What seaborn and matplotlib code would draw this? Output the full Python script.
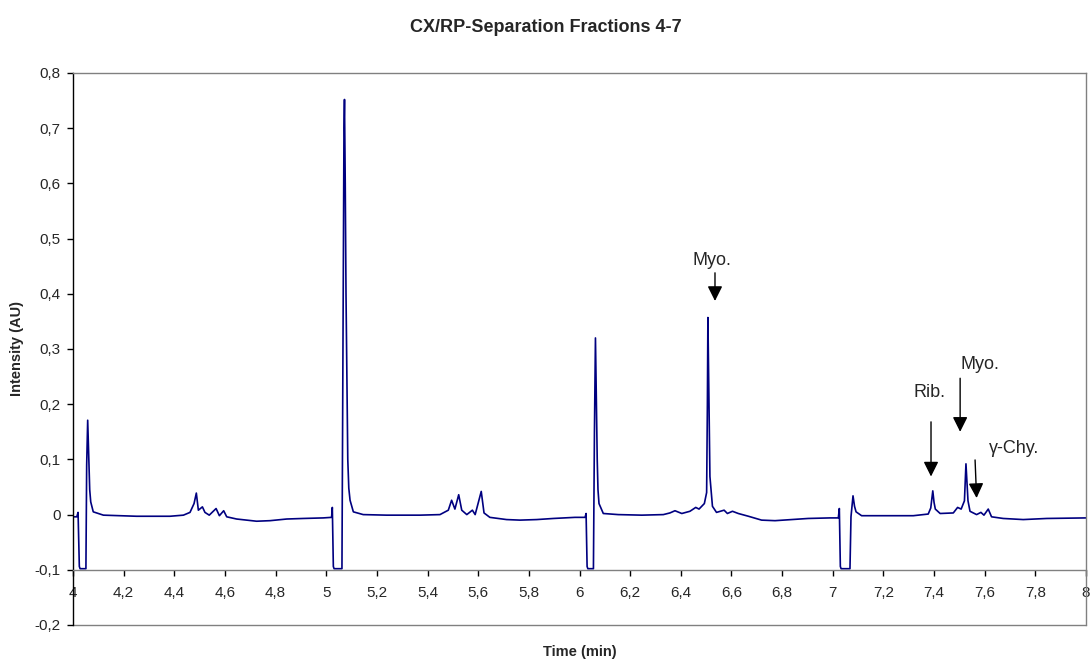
import matplotlib
matplotlib.use("Agg")
import matplotlib.pyplot as plt
import seaborn as sns
import pandas as pd
from matplotlib.ticker import FixedLocator, FuncFormatter

# ---------------- data ----------------
time_min = [
    4.000, 4.015, 4.020, 4.025, 4.028, 4.051, 4.054, 4.058, 4.063, 4.066,
    4.070, 4.080, 4.120, 4.251, 4.383, 4.436, 4.462, 4.478, 4.487, 4.495,
    4.511, 4.521, 4.538, 4.565, 4.578, 4.595, 4.607, 4.646, 4.725, 4.778,
    4.844, 4.909, 4.988,
    5.021, 5.024, 5.028, 5.031, 5.062, 5.066, 5.070, 5.072, 5.075, 5.078,
    5.085, 5.089, 5.094, 5.107, 5.146, 5.238, 5.370, 5.449, 5.482, 5.495,
    5.508, 5.523, 5.535, 5.555, 5.577, 5.588, 5.612, 5.623, 5.646, 5.712,
    5.765, 5.831, 5.897, 5.982,
    6.022, 6.026, 6.030, 6.033, 6.055, 6.059, 6.063, 6.067, 6.070, 6.073,
    6.077, 6.094, 6.153, 6.246, 6.331, 6.357, 6.377, 6.404, 6.436, 6.459,
    6.472, 6.493, 6.502, 6.505, 6.507, 6.510, 6.515, 6.525, 6.541, 6.571,
    6.584, 6.604, 6.627, 6.667, 6.719, 6.772, 6.838, 6.903, 6.989,
    7.022, 7.026, 7.030, 7.033, 7.068, 7.072, 7.080, 7.086, 7.092, 7.114,
    7.187, 7.318, 7.377, 7.387, 7.395, 7.400, 7.405, 7.424, 7.476, 7.493,
    7.507, 7.520, 7.526, 7.534, 7.542, 7.568, 7.585, 7.597, 7.614, 7.627,
    7.673, 7.752, 7.845, 8.000,
]
intensity_au = [
    -0.004, -0.004, 0.004, -0.094, -0.098, -0.098, 0.090, 0.171, 0.090, 0.045,
    0.023, 0.005, -0.001, -0.003, -0.003, -0.001, 0.004, 0.020, 0.039, 0.008,
    0.014, 0.004, -0.001, 0.011, -0.002, 0.007, -0.004, -0.008, -0.012, -0.011,
    -0.008, -0.007, -0.006,
    -0.005, 0.013, -0.094, -0.098, -0.098, 0.300, 0.700, 0.752, 0.600, 0.400,
    0.100, 0.048, 0.026, 0.005, 0.000, -0.001, -0.001, 0.000, 0.008, 0.026,
    0.010, 0.036, 0.008, 0.000, 0.008, 0.000, 0.042, 0.003, -0.005, -0.009,
    -0.010, -0.009, -0.007, -0.005,
    -0.005, 0.002, -0.094, -0.098, -0.098, 0.150, 0.320, 0.200, 0.099, 0.045,
    0.020, 0.002, 0.000, -0.001, 0.000, 0.003, 0.007, 0.002, 0.006, 0.013,
    0.010, 0.020, 0.040, 0.200, 0.357, 0.250, 0.069, 0.015, 0.004, 0.008,
    0.002, 0.006, 0.002, -0.003, -0.010, -0.011, -0.009, -0.007, -0.006,
    -0.006, 0.011, -0.094, -0.098, -0.098, -0.004, 0.034, 0.015, 0.005, -0.002,
    -0.002, -0.002, 0.001, 0.012, 0.043, 0.022, 0.010, 0.002, 0.003, 0.013,
    0.010, 0.025, 0.092, 0.025, 0.006, 0.000, 0.004, -0.001, 0.010, -0.004,
    -0.007, -0.009, -0.007, -0.006,
]

x_ticks = [4.0, 4.2, 4.4, 4.6, 4.8, 5.0, 5.2, 5.4, 5.6, 5.8, 6.0,
           6.2, 6.4, 6.6, 6.8, 7.0, 7.2, 7.4, 7.6, 7.8, 8.0]
y_ticks = [-0.2, -0.1, 0.0, 0.1, 0.2, 0.3, 0.4, 0.5, 0.6, 0.7, 0.8]

peak_labels = ["Myo.", "Rib.", "Myo.", "\u03b3-Chy."]
label_xy = [(6.523, 0.461), (7.384, 0.222), (7.581, 0.272), (7.716, 0.119)]
arrow_tail = [(6.535, 0.438), (7.388, 0.168), (7.503, 0.247), (7.562, 0.099)]
arrow_tip = [(6.535, 0.387), (7.388, 0.069), (7.503, 0.150), (7.568, 0.030)]

title = "CX/RP-Separation Fractions 4-7"
x_label = "Time (min)"
y_label = "Intensity (AU)"

# ---------------- plot ----------------
sns.set_theme(style="white")
plt.rcParams["font.family"] = ["Liberation Sans", "DejaVu Sans"]

df = pd.DataFrame({"time": time_min, "intensity": intensity_au})

fig = plt.figure(figsize=(10.91, 6.64), dpi=100)
ax = fig.add_axes([73 / 1091, 39 / 664, (1086 - 73) / 1091, (625 - 73) / 664])

sns.lineplot(data=df, x="time", y="intensity", ax=ax, color="#000080",
             linewidth=1.2, estimator=None, sort=False)

ax.set_xlim(4, 8)
ax.set_ylim(-0.2, 0.8)

gray = "#808080"
ax.spines["left"].set_color("black")
ax.spines["left"].set_linewidth(1.0)
ax.spines["top"].set_color(gray)
ax.spines["right"].set_color(gray)
for s in ["top", "right"]:
    ax.spines[s].set_linewidth(1.0)
ax.spines["bottom"].set_position(("data", -0.1))
ax.spines["bottom"].set_color(gray)
ax.spines["bottom"].set_linewidth(1.0)
ax.axhline(-0.2, color=gray, lw=1.0, clip_on=False, zorder=0)


def comma_fmt(v, pos):
    s = f"{v:.1f}".replace(".", ",")
    if s in ("0,0", "-0,0"):
        s = "0"
    if s.endswith(",0"):
        s = s[:-2]
    return s


ax.xaxis.set_major_locator(FixedLocator(x_ticks))
ax.yaxis.set_major_locator(FixedLocator(y_ticks))
ax.xaxis.set_major_formatter(FuncFormatter(comma_fmt))
ax.yaxis.set_major_formatter(FuncFormatter(comma_fmt))
ax.tick_params(axis="x", direction="out", length=4, width=1, color="black",
               pad=8, labelsize=11, bottom=True)
ax.tick_params(axis="y", direction="out", length=4, width=1, color="black",
               pad=5, labelsize=11, left=True)

ax.set_xlabel("")
ax.set_ylabel("")
fig.text(0.5 * (73 + 1086) / 1091, 1 - 652 / 664, x_label, ha="center",
         va="center", fontsize=10.5, fontweight="bold")
fig.text(17 / 1091, 1 - (73 + 625) / 2 / 664, y_label, ha="center",
         va="center", rotation=90, fontsize=10.5, fontweight="bold")
fig.text(0.5, 1 - 27 / 664, title, ha="center", va="center",
         fontsize=13, fontweight="bold")

for lab, lxy, tail, tip in zip(peak_labels, label_xy, arrow_tail, arrow_tip):
    ax.text(lxy[0], lxy[1], lab, ha="center", va="center", fontsize=13)
    ax.annotate("", xy=tip, xytext=tail,
                arrowprops=dict(arrowstyle="-|>,head_width=0.45,head_length=0.9",
                                mutation_scale=10, lw=1.0, color="black",
                                shrinkA=0, shrinkB=0))

fig.savefig("out.png", dpi=100)
